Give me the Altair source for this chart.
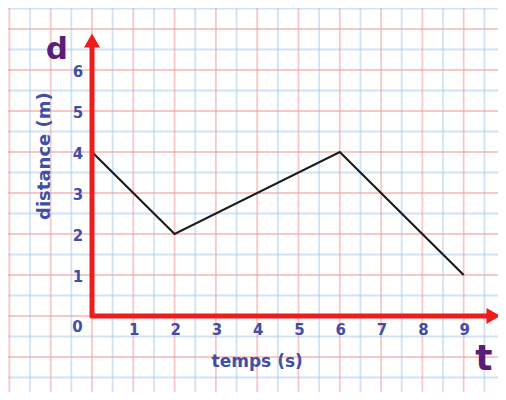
import altair as alt
import pandas as pd

# data
time_s = [0, 2, 6, 9]
distance_m = [4, 2, 4, 1]
x_ticks = [1, 2, 3, 4, 5, 6, 7, 8, 9]
y_ticks = [1, 2, 3, 4, 5, 6]
red_x = list(range(-2, 10))
blue_x = [v + 0.5 for v in range(-2, 10)]
red_y = list(range(-1, 8))
blue_y = [v + 0.5 for v in range(-2, 8)]

W, H = 490, 384
xs = alt.Scale(domain=[-2.034, 9.831], nice=False, zero=False)
ys = alt.Scale(domain=[-1.854, 7.512], nice=False, zero=False)

BLUE_TXT = "#3f4fa6"
PURPLE = "#5a1e78"
FONT = "DejaVu Sans"


def vgrid(vals, color, w, op):
    return alt.Chart(pd.DataFrame({"x": vals})).mark_rule(
        color=color, strokeWidth=w, opacity=op
    ).encode(x=alt.X("x:Q", scale=xs, axis=None))


def hgrid(vals, color, w, op):
    return alt.Chart(pd.DataFrame({"y": vals})).mark_rule(
        color=color, strokeWidth=w, opacity=op
    ).encode(y=alt.Y("y:Q", scale=ys, axis=None))


grid = (
    vgrid(blue_x, "#a9cbee", 1.8, 0.55)
    + hgrid(blue_y, "#a9cbee", 1.8, 0.55)
    + vgrid(red_x, "#f29a9a", 1.8, 0.55)
    + hgrid(red_y, "#f29a9a", 1.8, 0.55)
)

line = alt.Chart(pd.DataFrame({"t": time_s, "d": distance_m})).mark_line(
    color="#1c1c1c", strokeWidth=2.2
).encode(
    x=alt.X("t:Q", scale=xs, axis=None),
    y=alt.Y("d:Q", scale=ys, axis=None),
)

axes_df = pd.DataFrame({
    "x": [0, -0.04], "x2": [0, 9.64],
    "y": [-0.04, 0], "y2": [6.6, 0],
})
axes = alt.Chart(axes_df).mark_rule(color="#ee1c1c", strokeWidth=5).encode(
    x=alt.X("x:Q", scale=xs, axis=None), x2="x2:Q",
    y=alt.Y("y:Q", scale=ys, axis=None), y2="y2:Q",
)

heads_df = pd.DataFrame({"x": [0, 9.72], "y": [6.72, 0], "s": ["triangle-up", "triangle-right"]})
heads = alt.Chart(heads_df).mark_point(filled=True, color="#ee1c1c", opacity=1, size=260).encode(
    x=alt.X("x:Q", scale=xs, axis=None),
    y=alt.Y("y:Q", scale=ys, axis=None),
    shape=alt.Shape("s:N", scale=alt.Scale(domain=["triangle-up", "triangle-right"],
                                         range=["triangle-up", "triangle-right"]), legend=None),
)

xlab = alt.Chart(pd.DataFrame({"x": x_ticks, "y": [-0.34] * len(x_ticks), "l": [str(v) for v in x_ticks]})).mark_text(
    font=FONT, fontSize=15, fontWeight="bold", color=BLUE_TXT, baseline="middle", dx=1
).encode(x=alt.X("x:Q", scale=xs, axis=None), y=alt.Y("y:Q", scale=ys, axis=None), text="l:N")

ylab = alt.Chart(pd.DataFrame({"x": [-0.34] * len(y_ticks), "y": y_ticks, "l": [str(v) for v in y_ticks]})).mark_text(
    font=FONT, fontSize=15, fontWeight="bold", color=BLUE_TXT, baseline="middle", dy=2
).encode(x=alt.X("x:Q", scale=xs, axis=None), y=alt.Y("y:Q", scale=ys, axis=None), text="l:N")

zero = alt.Chart(pd.DataFrame({"x": [-0.35], "y": [-0.26], "l": ["0"]})).mark_text(
    font=FONT, fontSize=15, fontWeight="bold", color=BLUE_TXT, baseline="middle"
).encode(x=alt.X("x:Q", scale=xs, axis=None), y=alt.Y("y:Q", scale=ys, axis=None), text="l:N")

ytitle = alt.Chart(pd.DataFrame({"x": [-1.14], "y": [3.9], "l": ["distance (m)"]})).mark_text(
    font=FONT, fontSize=18, fontWeight="bold", color=BLUE_TXT, baseline="middle", align="center", angle=270
).encode(x=alt.X("x:Q", scale=xs, axis=None), y=alt.Y("y:Q", scale=ys, axis=None), text="l:N")

xtitle = alt.Chart(pd.DataFrame({"x": [4.0], "y": [-1.12], "l": ["temps (s)"]})).mark_text(
    font=FONT, fontSize=17, fontWeight="bold", color=BLUE_TXT, baseline="middle", align="center"
).encode(x=alt.X("x:Q", scale=xs, axis=None), y=alt.Y("y:Q", scale=ys, axis=None), text="l:N")

letters = alt.Chart(pd.DataFrame({"x": [-0.85, 9.49], "y": [6.27, -1.317], "l": ["d", "t"], "fs": [31, 36]})).mark_text(
    font=FONT, fontWeight="bold", color=PURPLE, baseline="alphabetic", align="center"
).encode(x=alt.X("x:Q", scale=xs, axis=None), y=alt.Y("y:Q", scale=ys, axis=None), text="l:N",
         size=alt.Size("fs:Q", scale=None, legend=None))

chart = alt.layer(grid, line, axes, heads, xlab, ylab, zero, ytitle, xtitle, letters).properties(
    width=W, height=H, autosize=alt.AutoSizeParams(type="none"), padding=0, background="white"
).configure_view(stroke=None)

chart.save("out.html", embed_options={"renderer": "svg", "actions": False})
